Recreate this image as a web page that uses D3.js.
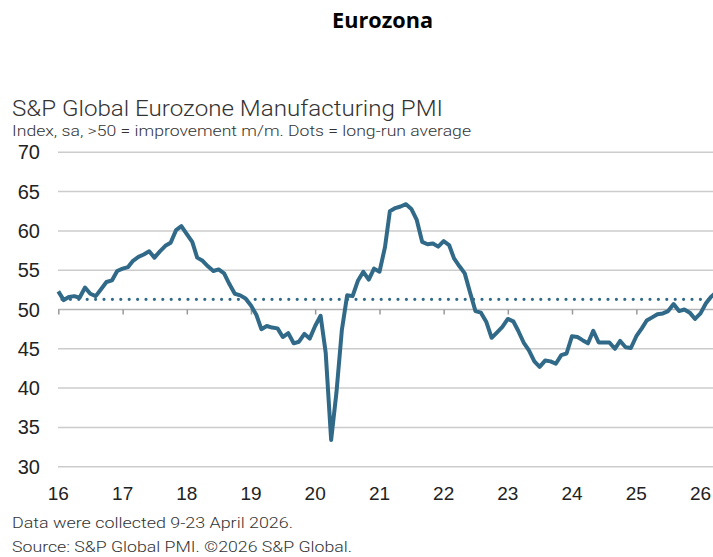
<!DOCTYPE html>
<html>
<head>
<meta charset="utf-8">
<script src="https://cdn.jsdelivr.net/npm/d3@7"></script>
<style>
  body { margin: 0; background: #fff; }
  svg { display: block; }
</style>
</head>
<body>
<svg id="chart" width="713" height="557"></svg>
<script>
// monthly PMI, Jan 2016 .. Apr 2026
var years = [2016, 2017, 2018, 2019, 2020, 2021, 2022, 2023, 2024, 2025, 2026];
var pmi2016 = [52.3, 51.2, 51.6, 51.7, 51.5, 52.8, 52.0, 51.7, 52.6, 53.5, 53.7, 54.9];
var pmi2017 = [55.2, 55.4, 56.2, 56.7, 57.0, 57.4, 56.6, 57.4, 58.1, 58.5, 60.1, 60.6];
var pmi2018 = [59.6, 58.6, 56.6, 56.2, 55.5, 54.9, 55.1, 54.6, 53.2, 52.0, 51.8, 51.4];
var pmi2019 = [50.5, 49.3, 47.5, 47.9, 47.7, 47.6, 46.5, 47.0, 45.7, 45.9, 46.9, 46.3];
var pmi2020 = [47.9, 49.2, 44.5, 33.4, 39.4, 47.4, 51.8, 51.7, 53.7, 54.8, 53.8, 55.2];
var pmi2021 = [54.8, 57.9, 62.5, 62.9, 63.1, 63.4, 62.8, 61.4, 58.6, 58.3, 58.4, 58.0];
var pmi2022 = [58.7, 58.2, 56.5, 55.5, 54.6, 52.1, 49.8, 49.6, 48.4, 46.4, 47.1, 47.8];
var pmi2023 = [48.8, 48.5, 47.3, 45.8, 44.8, 43.4, 42.7, 43.5, 43.4, 43.1, 44.2, 44.4];
var pmi2024 = [46.6, 46.5, 46.1, 45.7, 47.3, 45.8, 45.8, 45.8, 45.0, 46.0, 45.2, 45.1];
var pmi2025 = [46.6, 47.6, 48.6, 49.0, 49.4, 49.5, 49.8, 50.7, 49.8, 50.0, 49.6, 48.8];
var pmi2026 = [49.5, 50.8, 51.6, 52.2];
var longRunAverage = 51.3;
var yTicks = [30, 35, 40, 45, 50, 55, 60, 65, 70];
var xTickLabels = ["16", "17", "18", "19", "20", "21", "22", "23", "24", "25", "26"];

var allYears = [pmi2016, pmi2017, pmi2018, pmi2019, pmi2020, pmi2021, pmi2022, pmi2023, pmi2024, pmi2025, pmi2026];
var data = [];
allYears.forEach(function(arr, i) {
    arr.forEach(function(v, m) {
        data.push({ date: new Date(years[i], m, 1), value: v });
    });
});

var svg = d3.select("#chart");
var lineColor = "#306a88";

var x = d3.scaleTime()
    .domain([new Date(2016, 0, 1), new Date(2026, 0, 1)])
    .range([58.3, 700.5]);
var y = d3.scaleLinear()
    .domain([30, 70])
    .range([466.7, 152.3]);

// heading
svg.append("text")
    .attr("x", 332).attr("y", 28)
    .attr("textLength", 101).attr("lengthAdjust", "spacingAndGlyphs")
    .style("font-family", "'Open Sans', Lato, sans-serif")
    .style("font-weight", "bold")
    .style("font-size", "21px")
    .style("fill", "#000")
    .text("Eurozona");

svg.append("text")
    .attr("x", 12).attr("y", 116)
    .attr("textLength", 431).attr("lengthAdjust", "spacingAndGlyphs")
    .style("font-family", "Roboto, 'Liberation Sans', sans-serif")
    .style("font-weight", 300)
    .style("font-size", "22px")
    .style("fill", "#333")
    .text("S&P Global Eurozone Manufacturing PMI");

svg.append("text")
    .attr("x", 12).attr("y", 136)
    .attr("textLength", 459).attr("lengthAdjust", "spacingAndGlyphs")
    .style("font-family", "Roboto, 'Liberation Sans', sans-serif")
    .style("font-weight", 300)
    .style("font-size", "15px")
    .style("fill", "#333")
    .text("Index, sa, >50 = improvement m/m. Dots = long-run average");

// grid lines
svg.append("g")
    .selectAll("line")
    .data(yTicks)
    .join("line")
    .attr("x1", 58).attr("x2", 713)
    .attr("y1", function(d) { return y(d); })
    .attr("y2", function(d) { return y(d); })
    .attr("stroke", function(d) { return d == 50 ? "#b4b4b4" : "#cccccc"; })
    .attr("stroke-width", 1.5);

// y labels
svg.append("g")
    .selectAll("text")
    .data(yTicks)
    .join("text")
    .attr("x", 40)
    .attr("y", function(d) { return y(d) + 7; })
    .attr("text-anchor", "end")
    .style("font-family", "'Liberation Sans', Arial, sans-serif")
    .style("font-size", "20px")
    .style("fill", "#222")
    .text(function(d) { return d; });

// x axis sitting on the 50 line
var xAxis = d3.axisBottom(x)
    .ticks(d3.timeYear.every(1))
    .tickSize(5)
    .tickFormat("");
var gx = svg.append("g")
    .attr("transform", "translate(0," + y(50) + ")")
    .call(xAxis);
gx.select(".domain").remove();
gx.selectAll(".tick line").attr("stroke", "#999").attr("stroke-width", 1.5);

svg.append("g")
    .selectAll("text")
    .data(xTickLabels)
    .join("text")
    .attr("x", function(d, i) { return x(new Date(years[i], 0, 1)); })
    .attr("y", 500)
    .attr("text-anchor", "middle")
    .style("font-family", "'Liberation Sans', Arial, sans-serif")
    .style("font-size", "19px")
    .style("fill", "#222")
    .text(function(d) { return d; });

// long-run average dots
svg.append("line")
    .attr("x1", 62).attr("x2", 713)
    .attr("y1", y(longRunAverage)).attr("y2", y(longRunAverage))
    .attr("stroke", lineColor)
    .attr("stroke-width", 3.2)
    .attr("stroke-linecap", "round")
    .attr("stroke-dasharray", "0 8.4");

// PMI line
var line = d3.line()
    .x(function(d) { return x(d.date); })
    .y(function(d) { return y(d.value); });
svg.append("path")
    .datum(data)
    .attr("d", line)
    .attr("fill", "none")
    .attr("stroke", lineColor)
    .attr("stroke-width", 4)
    .attr("stroke-linejoin", "round");

// footer
svg.append("text")
    .attr("x", 12).attr("y", 528)
    .attr("textLength", 281).attr("lengthAdjust", "spacingAndGlyphs")
    .style("font-family", "Roboto, 'Liberation Sans', sans-serif")
    .style("font-weight", 300)
    .style("font-size", "14.5px")
    .style("fill", "#333")
    .text("Data were collected 9-23 April 2026.");

svg.append("text")
    .attr("x", 12).attr("y", 552)
    .attr("textLength", 340).attr("lengthAdjust", "spacingAndGlyphs")
    .style("font-family", "Roboto, 'Liberation Sans', sans-serif")
    .style("font-weight", 300)
    .style("font-size", "14.5px")
    .style("fill", "#333")
    .text("Source: S&P Global PMI. \u00A92026 S&P Global.");
</script>
</body>
</html>
